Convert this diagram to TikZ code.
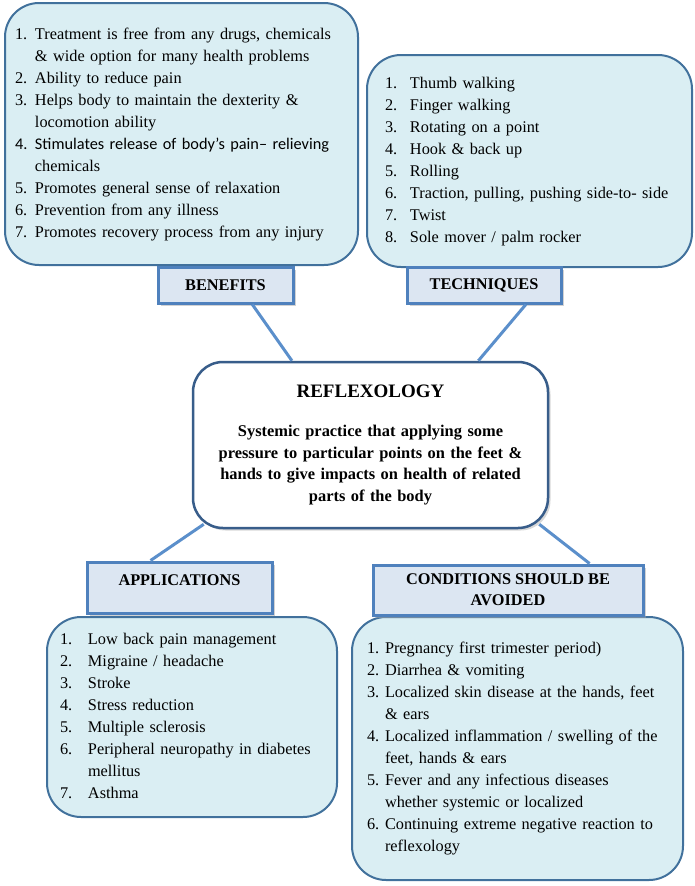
\documentclass[tikz,border=0pt]{standalone}
\usepackage{fontspec}
\setmainfont{Liberation Serif}
\newfontfamily\carlito{Carlito}
\usepackage{xcolor}
\usetikzlibrary{calc, shadows}

\definecolor{fundolista}{HTML}{DAEEF3}
\definecolor{bordalista}{HTML}{41719C}
\definecolor{fundorotulo}{HTML}{DCE6F2}
\definecolor{bordarotulo}{HTML}{4F81BD}
\definecolor{bordanucleo}{HTML}{385D8A}
\definecolor{azulligacao}{HTML}{5B8FCB}

\begin{document}
\begin{tikzpicture}[
        x=1pt, y=1pt,
        every node/.style={
            font=\fontsize{16.3}{22}\selectfont,
            inner sep=0pt
        },
        lista/.style={
            draw=bordalista,
            fill=fundolista,
            line width=2pt,
            rounded corners=34pt,
            align=left
        },
        rotulo/.style={
            draw=bordarotulo,
            fill=fundorotulo,
            line width=3pt,
            align=center,
            font=\fontsize{16.3}{21}\selectfont\bfseries,
            drop shadow={shadow xshift=2.5pt, shadow yshift=-2.5pt, fill=black!35}
        },
        nucleo/.style={
            draw=bordanucleo,
            fill=white,
            line width=2.5pt,
            rounded corners=30pt,
            align=center,
            font=\fontsize{16.4}{21.7}\selectfont\bfseries,
            drop shadow={shadow xshift=2.5pt, shadow yshift=-2.5pt, fill=black!30}
        },
        ligacao/.style={
            draw=azulligacao,
            line width=3pt
        }
    ]

    \useasboundingbox (0,0) rectangle (695,-886);

    % listas
    \node[lista, text width=333pt, inner xsep=10pt, minimum height=262pt] (beneficios) at (181.5,-134) {
        \begin{tabular}{@{}p{20pt}@{}l@{}}
        1. & Treatment is free from any drugs, chemicals\\
           & \& wide option for many health problems\\
        2. & Ability to reduce pain\\
        3. & Helps body to maintain the dexterity \&\\
           & locomotion ability\\
        {\carlito 4.} & {\carlito Stimulates release of body’s pain– relieving}\\
           & chemicals\\
        5. & Promotes general sense of relaxation\\
        6. & Prevention from any illness\\
        7. & Promotes recovery process from any injury
        \end{tabular}
    };

    \node[lista, text width=289pt, inner xsep=18pt, minimum height=212pt] (tecnicas) at (529.5,-161) {
        \begin{tabular}{@{}p{25pt}@{}l@{}}
        1. & Thumb walking\\
        2. & Finger walking\\
        3. & Rotating on a point\\
        4. & Hook \& back up\\
        5. & Rolling\\
        6. & Traction, pulling, pushing side-to- side\\
        7. & Twist\\
        8. & Sole mover / palm rocker
        \end{tabular}
    };

    \node[lista, text width=264pt, inner xsep=13pt, minimum height=200pt] (aplicacoes) at (192,-717) {
        \begin{tabular}{@{}p{28pt}@{}l@{}}
        1. & Low back pain management\\
        2. & Migraine / headache\\
        3. & Stroke\\
        4. & Stress reduction\\
        5. & Multiple sclerosis\\
        6. & Peripheral neuropathy in diabetes\\
           & mellitus\\
        7. & Asthma
        \end{tabular}
    };

    \node[lista, text width=301pt, inner xsep=15pt, minimum height=263pt] (condicoes) at (517.5,-748.5) {
        \begin{tabular}{@{}p{18pt}@{}l@{}}
        1. & Pregnancy first trimester period)\\
        2. & Diarrhea \& vomiting\\
        3. & Localized skin disease at the hands, feet\\
           & \& ears\\
        4. & Localized inflammation / swelling of the\\
           & feet, hands \& ears\\
        5. & Fever and any infectious diseases\\
           & whether systemic or localized\\
        6. & Continuing extreme negative reaction to\\
           & reflexology
        \end{tabular}
    };

    % rotulos
    \node[rotulo, minimum width=135pt, minimum height=36pt] (rotbeneficios) at (225.5,-285) {BENEFITS};
    \node[rotulo, minimum width=154pt, minimum height=36pt] (rottecnicas) at (484,-285) {TECHNIQUES};
    \node[rotulo, minimum width=185pt, text height=23.5pt, text depth=27.5pt] (rotaplicacoes) at (179.5,-587.5) {APPLICATIONS};
    \node[rotulo, minimum width=270pt, minimum height=50pt] (rotcondicoes) at (508,-590) {
        CONDITIONS SHOULD BE\\
        AVOIDED
    };

    % centro
    \node[nucleo, minimum width=355pt, minimum height=166pt, text width=330pt] (reflexologia) at (370.5,-445) {
        {\fontsize{19}{23}\selectfont REFLEXOLOGY}\\[17pt]
        Systemic practice that applying some\\
        pressure to particular points on the feet \&\\
        hands to give impacts on health of related\\
        parts of the body
    };

    \draw[ligacao] (rotbeneficios.-36) -- (reflexologia.133);
    \draw[ligacao] (rottecnicas.-25) -- (reflexologia.38);
    \draw[ligacao] ($(reflexologia.south west)+(12,5)$) -- (rotaplicacoes.137);
    \draw[ligacao] ($(reflexologia.south east)+(-10,5)$) -- (rotcondicoes.18);

\end{tikzpicture}
\end{document}
